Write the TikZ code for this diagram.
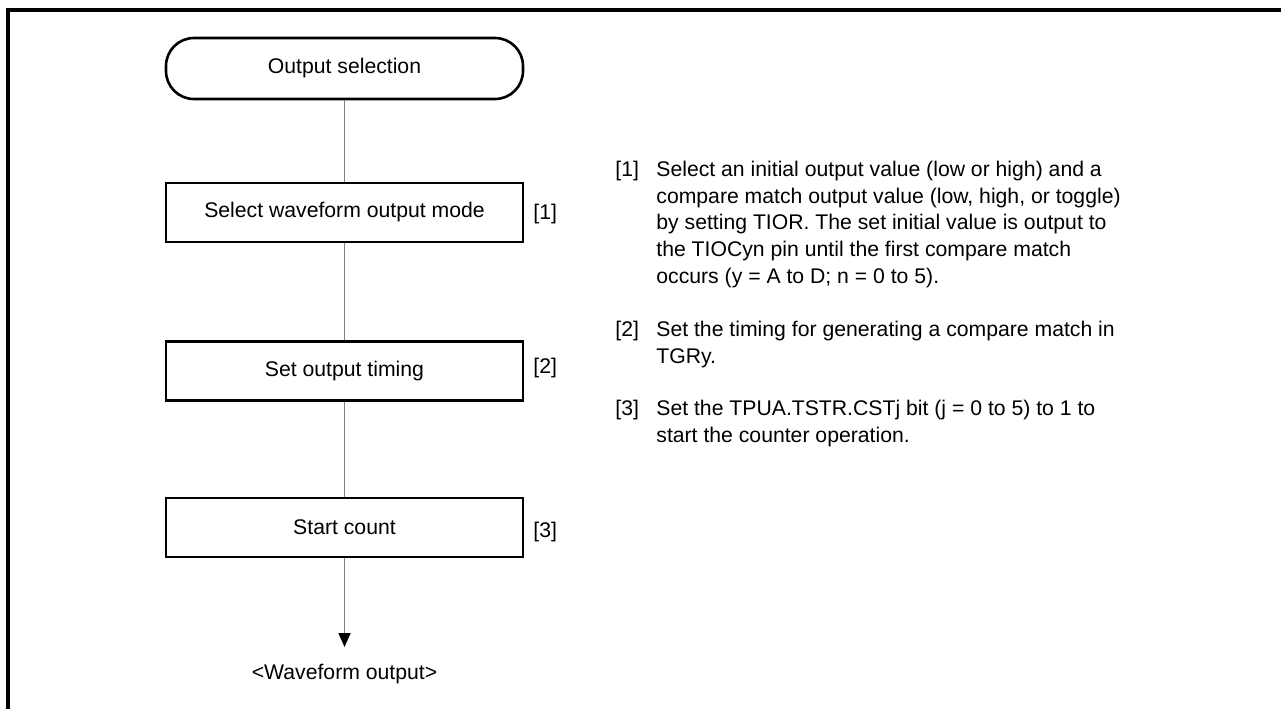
\documentclass[tikz,border=0pt]{standalone}
\usepackage{fontspec}
\setmainfont{Liberation Sans}
\usetikzlibrary{arrows.meta,positioning}
\definecolor{linegrey}{RGB}{128,128,128}
\newcommand{\chartfont}{\fontsize{10.6pt}{13.3pt}\selectfont}
\tikzset{
  stepbox/.style={draw=black,line width=1.3pt,fill=white,font=\chartfont,
    minimum width=178.5pt,minimum height=29.5pt,inner sep=0pt},
  terminal/.style={stepbox,rounded corners=14pt,minimum height=30.5pt},
  link/.style={draw=linegrey,line width=0.9pt},
  flow/.style={link,-{Triangle[length=7pt,width=6pt,color=black]}},
  steptag/.style={font=\chartfont,inner sep=0pt,anchor=west},
  notetag/.style={font=\chartfont,inner sep=0pt,anchor=north west},
  notetext/.style={font=\chartfont,inner sep=0pt,anchor=north west,align=left},
  frameline/.style={draw=black,line width=2pt}
}

\begin{document}
\begin{tikzpicture}[x=0.5pt,y=-0.5pt]
  \useasboundingbox (0,0) rectangle (1281,709);
  \draw[frameline] (8.3,709) -- (8.3,9.5) -- (1281,9.5);

  \node[terminal] (s0) at (344.5,68.5) {Output selection};
  \node[stepbox] (s1) at (344.5,212.5) {Select waveform output mode};
  \node[stepbox] (s2) at (344.5,371) {Set output timing};
  \node[stepbox] (s3) at (344.5,527.5) {Start count};
  \node[font=\chartfont,inner xsep=0pt,inner ysep=8.5pt,anchor=north] (out)
    at (344.5,647) {<Waveform output>};

  \node[steptag] (t1) at (533,214) {[1]};
  \node[steptag] (t2) at (533,368.5) {[2]};
  \node[steptag] (t3) at (533,532) {[3]};

  \draw[link] (s0) -- (s1);
  \draw[link] (s1) -- (s2);
  \draw[link] (s2) -- (s3);
  \draw[flow] (s3) -- (out);

  \node[notetag] (n1tag) at (615,161) {[1]};
  \node[notetext] (n1) at (656,161)
    {Select an initial output value (low or high) and a\\
     compare match output value (low, high, or toggle)\\
     by setting TIOR. The set initial value is output to\\
     the TIOCyn pin until the first compare match\\
     occurs (y = A to D; n = 0 to 5).};
  \node[notetag] (n2tag) at (615,321) {[2]};
  \node[notetext] (n2) at (656,321)
    {Set the timing for generating a compare match in\\
     TGRy.};
  \node[notetag] (n3tag) at (615,400) {[3]};
  \node[notetext] (n3) at (656,400)
    {Set the TPUA.TSTR.CSTj bit (j = 0 to 5) to 1 to\\
     start the counter operation.};
\end{tikzpicture}
\end{document}
